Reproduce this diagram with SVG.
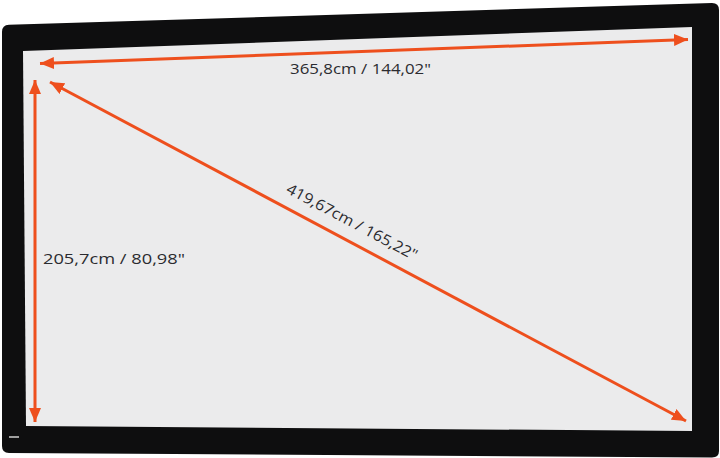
<svg xmlns="http://www.w3.org/2000/svg" width="720" height="458" viewBox="0 0 720 458">
  <defs>
    <marker id="ah" viewBox="0 0 14 12" refX="14" refY="6" markerWidth="14" markerHeight="12" markerUnits="userSpaceOnUse" orient="auto-start-reverse">
      <path d="M0,0 L14,6 L0,12 Z" fill="#ee4f1d"/>
    </marker>
    <style>
      .dim { stroke:#ee4f1d; stroke-width:3; fill:none; marker-start:url(#ah); marker-end:url(#ah); }
      .lbl { font-family:"Open Sans","Liberation Sans",sans-serif; font-size:15px; fill:#2b2b30; }
    </style>
  </defs>
  <rect width="720" height="458" fill="#ffffff"/>
  <g id="frame">
    <path d="M2,32 Q2,25 9,24.8 L712,3 Q719,3 719,10 L719,451 Q719,457.5 712,457.5 L9,453 Q2,453 2,446 Z" fill="#0e0e0f"/>
    <polygon points="23,51 692,27 692,431 26,426" fill="#ebebec"/>
    <line x1="9" y1="437" x2="19" y2="437" stroke="#cfcfcf" stroke-width="1.5"/>
  </g>
  <g id="connectors">
    <line class="dim" x1="40" y1="63.5" x2="688" y2="39.5"/>
    <line class="dim" x1="35" y1="80" x2="35" y2="422"/>
    <line class="dim" x1="50" y1="82" x2="686" y2="421"/>
  </g>
  <g id="labels">
    <text class="lbl" x="290" y="74" textLength="141" lengthAdjust="spacingAndGlyphs">365,8cm / 144,02"</text>
    <text class="lbl" x="43" y="264" textLength="142" lengthAdjust="spacingAndGlyphs">205,7cm / 80,98"</text>
    <text class="lbl" transform="translate(352,222) rotate(28)" x="-73" y="5" textLength="146" lengthAdjust="spacingAndGlyphs">419,67cm / 165,22"</text>
  </g>
</svg>
